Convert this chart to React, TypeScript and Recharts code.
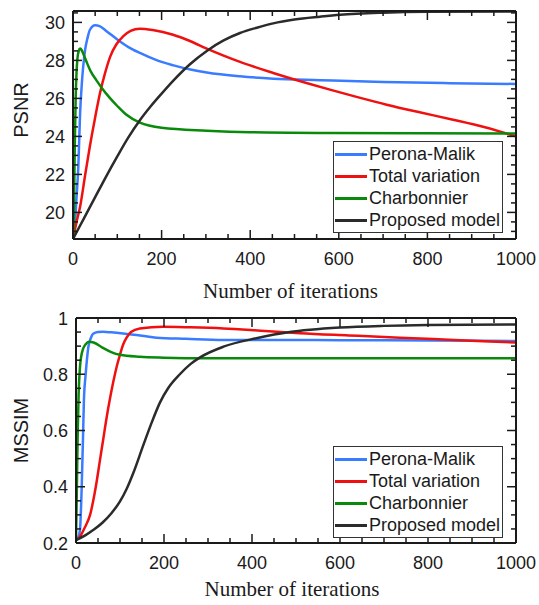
import React from "react";
import { LineChart, Line, XAxis, YAxis, Legend, Label } from "recharts";

type Pt = [number, number];

// iteration axis
const iterTicks = [0, 50, 100, 150, 200, 250, 300, 350, 400, 450, 500, 550, 600, 650, 700, 750, 800, 850, 900, 950, 1000];
const iterMajor = [0, 200, 400, 600, 800, 1000];

// PSNR axis
const psnrTicks = [19, 19.5, 20, 20.5, 21, 21.5, 22, 22.5, 23, 23.5, 24, 24.5, 25, 25.5, 26, 26.5, 27, 27.5, 28, 28.5, 29, 29.5, 30, 30.5];
const psnrMajor = [20, 22, 24, 26, 28, 30];

// MSSIM axis
const ssimTicks = [0.2, 0.25, 0.3, 0.35, 0.4, 0.45, 0.5, 0.55, 0.6, 0.65, 0.7, 0.75, 0.8, 0.85, 0.9, 0.95, 1];
const ssimMajor = [0.2, 0.4, 0.6, 0.8, 1];

const seriesNames = ["Perona-Malik", "Total variation", "Charbonnier", "Proposed model"];
const seriesColors = ["#3a7cff", "#f01010", "#0a8a0a", "#2b2b2b"];

// [iteration, PSNR]
const pmPsnr: Pt[] = [[0, 18.6], [4, 19.2], [8, 20.8], [12, 22.4], [16, 25.2], [20, 26.8], [27, 28.5], [33, 29.2], [38, 29.6], [50, 29.85], [60, 29.8], [75, 29.55], [100, 29.1], [125, 28.7], [151, 28.39], [190, 28.0], [227, 27.74], [265, 27.52], [302, 27.36], [377, 27.16], [452, 27.04], [558, 26.96], [700, 26.86], [850, 26.8], [1000, 26.76]];
const tvPsnr: Pt[] = [[0, 18.6], [8, 19.5], [16, 20.3], [27, 21.9], [38, 23.47], [50, 25.0], [61, 26.28], [72, 27.3], [84, 28.2], [98, 28.85], [113, 29.26], [130, 29.55], [151, 29.67], [180, 29.6], [226, 29.35], [264, 29.02], [302, 28.62], [340, 28.25], [377, 27.92], [452, 27.34], [527, 26.81], [580, 26.46], [640, 26.08], [708, 25.67], [780, 25.28], [858, 24.88], [930, 24.48], [1000, 24.0]];
const cbPsnr: Pt[] = [[0, 18.6], [2, 19.8], [4, 23.5], [6, 26], [8, 27.4], [10, 28.1], [13, 28.5], [16, 28.62], [20, 28.52], [25, 28.25], [31, 27.9], [40, 27.42], [53, 26.95], [65, 26.55], [84, 26.0], [100, 25.6], [120, 25.15], [151, 24.72], [200, 24.45], [302, 24.3], [400, 24.22], [580, 24.18], [1000, 24.15]];
const prPsnr: Pt[] = [[0, 18.6], [25, 19.7], [50, 20.8], [75, 21.9], [100, 22.95], [125, 23.95], [151, 24.85], [175, 25.57], [200, 26.25], [227, 26.95], [264, 27.8], [302, 28.5], [340, 29.05], [377, 29.44], [415, 29.72], [452, 29.95], [500, 30.15], [558, 30.3], [603, 30.4], [700, 30.51], [800, 30.56], [1000, 30.58]];

// [iteration, MSSIM]
const pmSsim: Pt[] = [[0, 0.21], [5, 0.22], [9, 0.246], [13, 0.4], [16, 0.58], [18, 0.707], [22, 0.8], [28, 0.896], [34, 0.93], [39, 0.944], [50, 0.95], [62, 0.951], [80, 0.949], [107, 0.945], [150, 0.937], [183, 0.93], [250, 0.926], [335, 0.922], [450, 0.922], [600, 0.921], [800, 0.92], [1000, 0.918]];
const tvSsim: Pt[] = [[0, 0.21], [10, 0.225], [20, 0.255], [32, 0.3], [45, 0.4], [55, 0.5], [62, 0.57], [70, 0.65], [78, 0.72], [85, 0.775], [93, 0.83], [100, 0.87], [107, 0.905], [115, 0.93], [125, 0.95], [145, 0.963], [198, 0.969], [260, 0.967], [335, 0.963], [420, 0.955], [509, 0.946], [620, 0.938], [736, 0.93], [860, 0.922], [1000, 0.913]];
const cbSsim: Pt[] = [[0, 0.21], [1, 0.3], [2, 0.4], [4, 0.6], [6, 0.73], [9, 0.825], [12, 0.865], [16, 0.89], [22, 0.907], [30, 0.916], [40, 0.913], [60, 0.895], [80, 0.879], [100, 0.869], [145, 0.862], [200, 0.859], [300, 0.857], [500, 0.857], [1000, 0.857]];
const prSsim: Pt[] = [[0, 0.21], [20, 0.226], [39, 0.246], [60, 0.272], [80, 0.305], [100, 0.348], [115, 0.392], [130, 0.448], [153, 0.548], [170, 0.62], [191, 0.7], [210, 0.752], [236, 0.8], [260, 0.836], [282, 0.86], [335, 0.898], [410, 0.928], [486, 0.95], [532, 0.958], [600, 0.966], [700, 0.972], [800, 0.975], [1000, 0.977]];

const INK = "#1a1a1a";
const SANS = "'Liberation Sans', Arial, sans-serif";
const SERIF = "'Liberation Serif', 'Times New Roman', serif";

const toPts = (a: Pt[]) => a.map(([x, y]) => ({ x, y }));
const isMajor = (majors: number[], v: number) => majors.some((m) => Math.abs(m - v) < 1e-9);

// inward ticks, labels only on major ticks
const makeTick = (side: "bottom" | "top" | "left" | "right", majors: number[], fmt?: (v: number) => string) =>
  (props: any) => {
    const { x, y, payload } = props;
    const v = payload.value;
    const major = isMajor(majors, v);
    const len = major ? 9 : 5;
    let line = { x1: x, y1: y, x2: x, y2: y - len };
    if (side === "top") line = { x1: x, y1: y, x2: x, y2: y + len };
    if (side === "left") line = { x1: x, y1: y, x2: x + len, y2: y };
    if (side === "right") line = { x1: x, y1: y, x2: x - len, y2: y };
    return (
      <g>
        <line {...line} stroke={INK} strokeWidth={1.5} />
        {fmt && major && side === "bottom" && (
          <text x={x} y={y + 26} textAnchor="middle" fontFamily={SANS} fontSize={18} fill={INK}>{fmt(v)}</text>
        )}
        {fmt && major && side === "left" && (
          <text x={x - 8} y={y + 6.5} textAnchor="end" fontFamily={SANS} fontSize={18} fill={INK}>{fmt(v)}</text>
        )}
      </g>
    );
  };

const LegendBox = ({ payload }: any) => {
  const items = [...(payload || [])].sort(
    (a: any, b: any) => seriesNames.indexOf(a.value) - seriesNames.indexOf(b.value)
  );
  return (
    <div style={{
      border: "1.5px solid #333", background: "#fff",
      padding: "1px 2px 1px 1px", fontFamily: SANS, fontSize: 18, color: INK,
    }}>
      {items.map((e: any) => (
        <div key={e.value} style={{ display: "flex", alignItems: "center", height: 22 }}>
          <span style={{ display: "inline-block", width: 32, height: 3, background: e.color, marginRight: 2 }} />
          <span style={{ lineHeight: "22px", whiteSpace: "nowrap" }}>{e.value}</span>
        </div>
      ))}
    </div>
  );
};

function Panel({
  height, margin, yDomain, yTicks, yMajor, yFmt, yTitle, yTitleY, xTitleDy, series,
}: {
  height: number;
  margin: { top: number; right: number; bottom: number; left: number };
  yDomain: [number, number];
  yTicks: number[];
  yMajor: number[];
  yFmt: (v: number) => string;
  yTitle: string;
  yTitleY: number;
  xTitleDy: number;
  series: Pt[][];
}) {
  return (
    <LineChart width={539} height={height} margin={margin}>
      <XAxis
        xAxisId="b" dataKey="x" type="number" domain={[0, 1000]} allowDataOverflow
        ticks={iterTicks} interval={0} height={1} tickSize={0} tickMargin={0}
        axisLine={{ stroke: INK, strokeWidth: 2 }} tickLine={false}
        tick={makeTick("bottom", iterMajor, (v) => String(v))}
      >
        <Label content={(p: any) => {
          const vb = p.viewBox;
          return (
            <text x={vb.x + vb.width / 2 - 4} y={vb.y + xTitleDy} textAnchor="middle"
              fontFamily={SERIF} fontSize={21} fill={INK}>Number of iterations</text>
          );
        }} />
      </XAxis>
      <XAxis
        xAxisId="t" orientation="top" dataKey="x" type="number" domain={[0, 1000]} allowDataOverflow
        ticks={iterTicks} interval={0} height={1} tickSize={0} tickMargin={0}
        axisLine={{ stroke: INK, strokeWidth: 2 }} tickLine={false}
        tick={makeTick("top", iterMajor)}
      />
      <YAxis
        yAxisId="l" type="number" domain={yDomain} allowDataOverflow
        ticks={yTicks} interval={0} width={1} tickSize={0} tickMargin={0}
        axisLine={{ stroke: INK, strokeWidth: 2 }} tickLine={false}
        tick={makeTick("left", yMajor, yFmt)}
      >
        <Label content={() => (
          <text x={0} y={0} transform={`translate(21, ${yTitleY}) rotate(-90)`} textAnchor="middle"
            dominantBaseline="central" fontFamily={SANS} fontSize={20} fill={INK}>{yTitle}</text>
        )} />
      </YAxis>
      <YAxis
        yAxisId="r" orientation="right" type="number" domain={yDomain} allowDataOverflow
        ticks={yTicks} interval={0} width={1} tickSize={0} tickMargin={0}
        axisLine={{ stroke: INK, strokeWidth: 2 }} tickLine={false}
        tick={makeTick("right", yMajor)}
      />
      <Legend
        layout="vertical" align="center" verticalAlign="middle"
        content={<LegendBox />}
        wrapperStyle={{ left: 333, top: 141, width: "auto" }}
      />
      {series.map((s, i) => (
        <Line
          key={seriesNames[i]}
          xAxisId="b" yAxisId="l"
          data={toPts(s)} dataKey="y" name={seriesNames[i]}
          type="monotone" stroke={seriesColors[i]} strokeWidth={2.5}
          dot={false} activeDot={false} isAnimationActive={false}
        />
      ))}
    </LineChart>
  );
}

export default function App() {
  return (
    <div style={{ position: "absolute", left: 0, top: 0, width: 539, height: 605, background: "#fff" }}>
      <Panel
        height={305}
        margin={{ top: 10, right: 22, bottom: 65, left: 72 }}
        yDomain={[18.6, 30.6]} yTicks={psnrTicks} yMajor={psnrMajor} yFmt={(v) => String(v)}
        yTitle="PSNR" yTitleY={110} xTitleDy={59}
        series={[pmPsnr, tvPsnr, cbPsnr, prPsnr]}
      />
      <Panel
        height={300}
        margin={{ top: 12, right: 22, bottom: 61, left: 75 }}
        yDomain={[0.2, 1]} yTicks={ssimTicks} yMajor={ssimMajor} yFmt={(v) => String(v)}
        yTitle="MSSIM" yTitleY={125.5} xTitleDy={53}
        series={[pmSsim, tvSsim, cbSsim, prSsim]}
      />
    </div>
  );
}
